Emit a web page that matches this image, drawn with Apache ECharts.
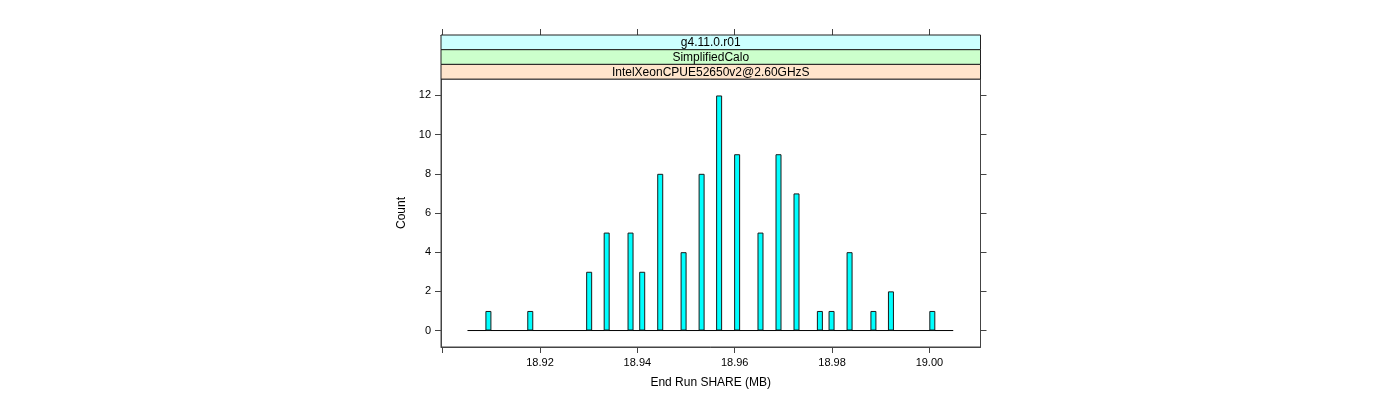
<!DOCTYPE html>
<html>
<head>
<meta charset="utf-8">
<script src="https://cdn.jsdelivr.net/npm/echarts@6/dist/echarts.min.js"></script>
<style>
html,body{margin:0;padding:0;background:#fff;}
#chart{width:1400px;height:400px;}
</style>
</head>
<body>
<div id="chart"></div>
<script>
// ---- data ----
var binCenters = [18.9094, 18.9180, 18.9301, 18.9337, 18.9386, 18.9410, 18.9447, 18.9495, 18.9532, 18.9568,
                  18.9605, 18.9653, 18.9690, 18.9727, 18.9775, 18.9799, 18.9836, 18.9885, 18.9921, 19.0006];
var counts     = [1, 1, 3, 5, 5, 3, 8, 4, 8, 12,
                  9, 5, 9, 7, 1, 1, 4, 1, 2, 1];
var histRange  = [18.9051, 19.0049];
var xTickValues  = [18.90, 18.92, 18.94, 18.96, 18.98, 19.00];
var xLabelValues = [18.92, 18.94, 18.96, 18.98, 19.00];
var yTickValues  = [0, 2, 4, 6, 8, 10, 12];
var stripLabels  = ['g4.11.0.r01', 'SimplifiedCalo', 'IntelXeonCPUE52650v2@2.60GHzS'];
var stripColors  = ['#ccffff', '#ccffcc', '#ffe5cc'];
var xTitle = 'End Run SHARE (MB)';
var yTitle = 'Count';

// ---- layout ----
var gLeft = 441, gRight = 980.5, gTop = 79, gBottom = 347;
var stripTop = 35, stripH = 14.7;
var FONT = '"Liberation Sans", Arial, sans-serif';
var AX = '#444';

var chart = echarts.init(document.getElementById('chart'), null, {renderer: 'canvas'});

var barData = binCenters.map(function (x, i) { return [x, counts[i]]; });

var graphics = [];
stripLabels.forEach(function (t, i) {
  graphics.push({
    type: 'rect',
    shape: {x: gLeft, y: stripTop + i * stripH, width: gRight - gLeft, height: stripH},
    style: {fill: stripColors[i], stroke: '#222', lineWidth: 1},
    z: 10
  });
  graphics.push({
    type: 'text',
    x: (gLeft + gRight) / 2,
    y: stripTop + i * stripH + stripH / 2 + 0.5,
    style: {text: t, fill: '#000', font: '12px ' + FONT, align: 'center', verticalAlign: 'middle'},
    z: 11
  });
});

var option = {
  animation: false,
  backgroundColor: '#fff',
  textStyle: {fontFamily: FONT},
  grid: {
    left: gLeft, top: gTop, width: gRight - gLeft, height: gBottom - gTop,
    show: true, borderColor: AX, borderWidth: 1, backgroundColor: 'transparent'
  },
  graphic: graphics,
  xAxis: [{
    type: 'value', position: 'bottom',
    min: 18.89966, max: 19.0105,
    splitLine: {show: false},
    axisLine: {show: true, onZero: false, lineStyle: {color: AX}},
    axisTick: {show: true, length: 6, inside: false, customValues: xTickValues, lineStyle: {color: AX}},
    axisLabel: {show: true, customValues: xLabelValues, color: '#000', fontSize: 11, margin: 10,
                formatter: function (v) { return v.toFixed(2); }},
    name: xTitle, nameLocation: 'middle', nameGap: 30,
    nameTextStyle: {color: '#000', fontSize: 12}
  }, {
    type: 'value', position: 'top', offset: gTop - stripTop,
    min: 18.89966, max: 19.0105,
    splitLine: {show: false},
    axisLine: {show: true, onZero: false, lineStyle: {color: AX}},
    axisTick: {show: true, length: 6, inside: false, customValues: xTickValues, lineStyle: {color: AX}},
    axisLabel: {show: false}
  }],
  yAxis: [{
    type: 'value', position: 'left',
    min: -0.84, max: 12.84,
    splitLine: {show: false},
    axisLine: {show: true, onZero: false, lineStyle: {color: AX}},
    axisTick: {show: true, length: 6, inside: false, customValues: yTickValues, lineStyle: {color: AX}},
    axisLabel: {show: true, customValues: yTickValues, color: '#000', fontSize: 11, margin: 10},
    name: yTitle, nameLocation: 'middle', nameGap: 33, nameRotate: 90,
    nameTextStyle: {color: '#000', fontSize: 12}
  }, {
    type: 'value', position: 'right',
    min: -0.84, max: 12.84,
    splitLine: {show: false},
    axisLine: {show: true, onZero: false, lineStyle: {color: AX}},
    axisTick: {show: true, length: 6, inside: false, customValues: yTickValues, lineStyle: {color: AX}},
    axisLabel: {show: false}
  }],
  series: [{
    type: 'line',
    xAxisIndex: 0, yAxisIndex: 0,
    data: [[histRange[0], 0], [histRange[1], 0]],
    symbol: 'none',
    lineStyle: {color: '#000', width: 1},
    z: 1, silent: true
  }, {
    type: 'bar',
    xAxisIndex: 0, yAxisIndex: 0,
    data: barData,
    barWidth: 6,
    itemStyle: {color: '#00ffff', borderColor: '#1a1a1a', borderWidth: 1},
    z: 2
  }]
};
chart.setOption(option);
</script>
</body>
</html>
